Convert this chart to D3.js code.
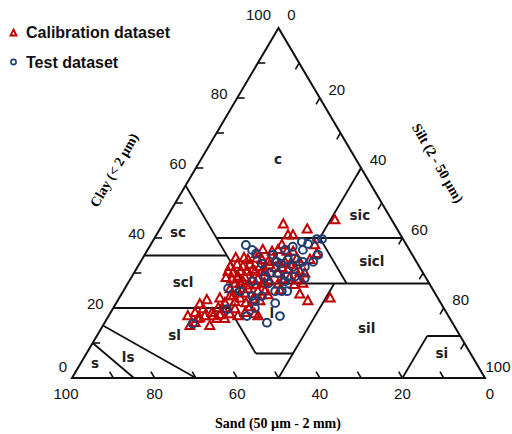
<!DOCTYPE html>
<html>
<head>
<meta charset="utf-8">
<script src="https://cdn.jsdelivr.net/npm/d3@7"></script>
<style>body{margin:0;background:#fff}</style>
</head>
<body>
<div id="chart"></div>
<script>
// samples as [sand, clay] in %, silt is the rest
var calib = [
  [13.8,45.1],[21.8,42.5],[26.9,43.9],[27.3,40.8],[26.1,40.8],[30.2,38.0],[22.2,38.0],[33.5,36.1],[29.9,36.1],[28.4,36.1],
  [37.5,35.5],[35.9,33.2],[33.9,33.8],[28.5,34.1],[31.0,32.4],[23.0,35.5],[35.5,36.6],[45.8,31.8],[43.8,32.4],[42.7,31.8],
  [40.7,32.4],[38.2,34.1],[46.1,29.9],[44.1,30.4],[42.4,30.4],[40.7,31.0],[38.6,31.8],[38.1,30.4],[40.5,30.4],[47.0,30.4],
  [45.3,29.0],[43.8,28.7],[42.3,28.2],[47.0,27.0],[44.8,27.6],[43.7,26.5],[40.9,28.2],[40.3,27.0],[38.3,27.6],[35.0,31.5],
  [33.4,31.5],[32.2,31.0],[30.5,31.0],[29.6,30.4],[28.7,29.9],[32.9,28.7],[31.4,28.2],[34.8,28.2],[30.6,27.0],[36.7,26.8],
  [49.0,25.4],[47.4,24.8],[46.0,24.2],[49.3,23.4],[47.9,22.8],[47.2,21.4],[44.9,22.5],[42.6,24.8],[52.8,22.8],[52.3,21.4],
  [32.9,23.9],[31.9,22.0],[26.1,22.8],[46.1,17.7],[54.6,20.0],[53.6,19.7],[56.8,18.6],[58.4,19.7],[58.5,21.1],[60.9,18.6],
  [63.1,17.7],[59.0,17.7],[57.0,17.7],[52.6,18.3],[51.0,17.7],[48.8,18.6],[46.6,18.3],[62.3,15.8],[59.2,14.9],[64.0,14.9],
  [56.5,16.9],[50.7,19.7],[46.8,20.3],[54.6,16.9],[61.1,16.9],[37.1,33.8],[40.5,33.8],[45.8,27.0],[47.2,28.2],[44.7,25.4],
  [40.9,24.8],[43.5,22.0],[25.5,33.8],[35.2,29.9],
  [43.2,34.3],[41.2,34.3],[48.4,28.6],[38.9,30.3],[36.0,32.3],[31.9,33.1],[37.1,25.1],[40.7,23.7],[49.7,21.7],[50.0,23.4],
  [42.4,26.6],[39.8,27.1],[32.9,26.6],[28.3,33.1],[31.8,36.6],[56.2,22.3],[60.5,17.1],[55.2,18.0]
];
var test = [
  [38.9,38.0],[38.1,36.6],[37.7,35.5],[20.9,39.7],[19.6,39.7],[23.7,38.3],[24.9,38.9],[27.8,37.5],[30.1,36.6],[33.7,35.2],
  [33.8,33.2],[33.1,32.7],[30.8,33.8],[29.0,34.1],[27.5,33.2],[25.0,33.2],[27.7,31.8],[22.8,35.2],[37.2,29.9],[35.2,29.9],
  [33.4,29.0],[31.5,29.0],[29.4,28.5],[39.0,27.0],[42.3,23.4],[38.4,24.8],[36.8,24.8],[35.5,24.8],[40.1,21.4],[45.7,20.0],
  [40.8,17.7],[44.9,15.8],[49.4,25.6],[46.9,24.8],[44.7,23.4],[42.4,27.6],[52.6,19.7],[48.8,17.7],[63.0,15.5],[30.6,31.8],
  [25.8,36.6],[34.6,27.6],[37.7,32.7],[44.7,22.0],[38.8,29.0]
];

// texture class names and where they are written, [sand, clay]
var classNames = ['c','sc','scl','sl','ls','s','sic','sicl','sil','si','l'];
var classPos = [[18.8,62.6],[53.5,41.7],[59.4,27.4],[69,12.3],[83.4,6],[92.3,4.3],
                [7,46.6],[10.7,33.4],[21.5,14.3],[6.9,7.1],[42.3,18.6]];

// class borders, each a polyline of [sand, clay]
var borders = [
  [[45,55],[45,27]], [[65,35],[45,35]], [[45,40],[0,40]], [[20,40],[0,60]],
  [[20,40],[20,27]], [[45,27],[0,27]], [[45,27],[52,20]], [[80,20],[52,20]],
  [[52,20],[52,7]], [[52,7],[43,7]], [[23,27],[50,0]], [[8,12],[0,12]],
  [[8,12],[20,0]], [[85,15],[70,0]], [[90,10],[85,0]]
];

var minorTicks = d3.range(10,100,10);
var tickLabels = [0,20,40,60,80,100];
var legendNames = ['Calibration dataset','Test dataset'];

var red = '#c00000', blue = '#1f3f73';
var numFont = '"Liberation Sans", Arial, sans-serif';
var serif = '"Liberation Serif", "Times New Roman", serif';

var svg = d3.select('#chart').append('svg').attr('width',512).attr('height',434);
svg.append('rect').attr('width',512).attr('height',434).attr('fill','#fff');

var sx = d3.scaleLinear().domain([0,100]).range([72,485]);
var sy = d3.scaleLinear().domain([0,100]).range([378,28]);
function pt(sand, clay) {
  var silt = 100 - sand - clay;
  return [sx(silt + clay/2), sy(clay)];
}
var line = d3.line();

// outline
svg.append('path')
  .attr('d', line([pt(100,0), pt(0,100), pt(0,0)]) + 'Z')
  .attr('fill','none').attr('stroke','#111').attr('stroke-width',2)
  .attr('stroke-linejoin','miter');

// borders
svg.append('g').selectAll('path').data(borders).enter().append('path')
  .attr('d', d => line(d.map(p => pt(p[0],p[1]))))
  .attr('fill','none').attr('stroke','#111').attr('stroke-width',1.8);

// ticks: left = clay, right = silt, bottom = sand
var tl = 1.8, tickSegs = [];
minorTicks.forEach(k => {
  tickSegs.push([pt(100-k,k), pt(100-k-tl,k)]);
  tickSegs.push([pt(0,100-k), pt(tl,100-k-tl)]);
  tickSegs.push([pt(k,0), pt(k,tl)]);
});
svg.append('g').selectAll('path').data(tickSegs).enter().append('path')
  .attr('d', d => line(d))
  .attr('stroke','#111').attr('stroke-width',1.6);

var gl = svg.append('g').attr('font-family',numFont).attr('font-size',15)
  .attr('text-anchor','middle').attr('fill','#111');
tickLabels.forEach(k => {
  var p = pt(100-k,k);
  var o = k==0 ? [-9,-11] : k==100 ? [-20,-13] : [-18,-4];
  gl.append('text').attr('x',p[0]+o[0]).attr('y',p[1]+o[1]).attr('dy','0.35em').text(k);
  p = pt(0,100-k);
  o = k==0 ? [13,-13] : k==100 ? [13,-11] : [17,-8];
  gl.append('text').attr('x',p[0]+o[0]).attr('y',p[1]+o[1]).attr('dy','0.35em').text(k);
  p = pt(k,0);
  o = k==100 ? [-6,16] : k==0 ? [5,16] : [0,16];
  gl.append('text').attr('x',p[0]+o[0]).attr('y',p[1]+o[1]).attr('dy','0.35em').text(k);
});

// class names
svg.append('g').selectAll('text').data(classNames).enter().append('text')
  .attr('x', (d,i) => pt(classPos[i][0],classPos[i][1])[0])
  .attr('y', (d,i) => pt(classPos[i][0],classPos[i][1])[1])
  .attr('dy','0.35em').attr('text-anchor','middle')
  .attr('font-family','"DejaVu Sans", sans-serif').attr('font-size',13.5)
  .attr('font-weight','bold').attr('fill','#222')
  .text(d => d);

// axis titles
svg.append('text').attr('transform','translate(114,170) rotate(-60)')
  .attr('text-anchor','middle').attr('dy','0.35em')
  .attr('font-family',serif).attr('font-weight','bold').attr('font-size',14)
  .text('Clay (< 2 µm)');
svg.append('text').attr('transform','translate(438,163) rotate(60)')
  .attr('text-anchor','middle').attr('dy','0.35em')
  .attr('font-family',serif).attr('font-weight','bold').attr('font-size',14)
  .text('Silt (2 - 50 µm)');
svg.append('text').attr('x',278).attr('y',428).attr('text-anchor','middle')
  .attr('font-family',serif).attr('font-weight','bold').attr('font-size',14)
  .text('Sand (50 µm - 2 mm)');

// points
var tri = 'M0,-5L4.5,3.2L-4.5,3.2Z';
svg.append('g').selectAll('path').data(calib).enter().append('path')
  .attr('d', tri)
  .attr('transform', d => 'translate(' + pt(d[0],d[1]) + ')')
  .attr('fill','none').attr('stroke',red).attr('stroke-width',2);
svg.append('g').selectAll('circle').data(test).enter().append('circle')
  .attr('cx', d => pt(d[0],d[1])[0]).attr('cy', d => pt(d[0],d[1])[1])
  .attr('r',3.9).attr('fill','none').attr('stroke',blue).attr('stroke-width',2);

// legend
var lg = svg.append('g');
lg.append('path').attr('d','M0,-3.5L3,2.5L-3,2.5Z').attr('transform','translate(13.5,33)')
  .attr('fill','none').attr('stroke',red).attr('stroke-width',1.8);
lg.append('circle').attr('cx',13.5).attr('cy',62).attr('r',2.6)
  .attr('fill','none').attr('stroke',blue).attr('stroke-width',1.6);
lg.selectAll('text').data(legendNames).enter().append('text')
  .attr('x',26).attr('y',(d,i) => 38 + i*30)
  .attr('font-family','"Liberation Sans", Arial, sans-serif').attr('font-weight','bold')
  .attr('font-size',16).attr('fill','#111')
  .text(d => d);
</script>
</body>
</html>
